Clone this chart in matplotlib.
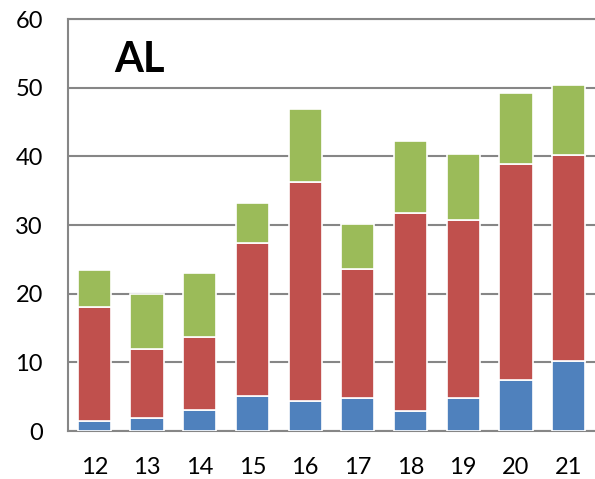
import numpy as np
import matplotlib.pyplot as plt

plt.rcParams['font.family'] = ['Lato', 'DejaVu Sans']

# years on the x axis
years = ['12', '13', '14', '15', '16', '17', '18', '19', '20', '21']
# stacked series, bottom to top
blue = [1.5, 1.9, 3.0, 5.1, 4.4, 4.75, 2.9, 4.75, 7.5, 10.2]
red = [16.6, 10.0, 10.7, 22.3, 31.8, 18.85, 28.9, 25.95, 31.4, 30.0]
green = [5.4, 8.05, 9.3, 5.8, 10.7, 6.6, 10.5, 9.7, 10.3, 10.2]

fig = plt.figure(figsize=(5.95, 4.79), dpi=100)
ax = fig.add_axes([68/595, 1 - 431/479, 1 - 68/595, (431 - 19)/479])

x = np.arange(len(years))
w = 0.63
ax.bar(x, blue, w, color='#4F81BD', edgecolor='white', linewidth=1.2, zorder=3)
ax.bar(x, red, w, bottom=blue, color='#C0504D', edgecolor='white', linewidth=1.2, zorder=3)
bottom2 = np.array(blue) + np.array(red)
ax.bar(x, green, w, bottom=bottom2, color='#9BBB59', edgecolor='white', linewidth=1.2, zorder=3)

ax.set_xlim(-0.5, 9.5)
ax.set_ylim(0, 60)
ax.set_yticks(range(0, 61, 10))
ax.set_xticks(x)
ax.set_xticklabels(years)
ax.yaxis.grid(True, color='#868686', linewidth=1.5, zorder=0)
ax.set_axisbelow(True)
ax.tick_params(axis='both', length=0, labelsize=17)
ax.tick_params(axis='x', pad=19)
ax.tick_params(axis='y', pad=18)
for s in ['left', 'top', 'bottom']:
    ax.spines[s].set_color('#868686')
    ax.spines[s].set_linewidth(1.5)
ax.spines['right'].set_visible(False)

ax.text(0.088, 0.9, 'AL', transform=ax.transAxes, fontsize=30, fontweight='bold', ha='left', va='center')

fig.savefig('out.png', dpi=100)
